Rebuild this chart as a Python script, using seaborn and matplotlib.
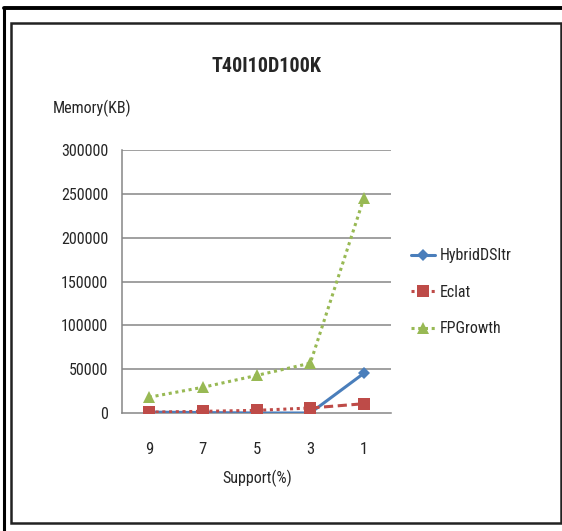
import matplotlib
matplotlib.use("Agg")
import matplotlib.pyplot as plt
from matplotlib.lines import Line2D
from matplotlib.patches import Rectangle
import pandas as pd
import seaborn as sns

# Memory usage per minimum support level, T40I10D100K dataset
support = ["9", "7", "5", "3", "1"]
hybrid_dsitr = [1000, 500, 0, 0, 45500]
eclat = [1000, 1900, 3000, 5700, 10600]
fpgrowth = [18000, 29300, 42800, 56800, 245800]
y_ticks = [0, 50000, 100000, 150000, 200000, 250000, 300000]

series_names = ["HybridDSItr", "Eclat", "FPGrowth"]
colors = {"HybridDSItr": "#4A7EBB", "Eclat": "#BE4B48", "FPGrowth": "#98B954"}

df = pd.DataFrame({
    "Support": support * 3,
    "Memory": hybrid_dsitr + eclat + fpgrowth,
    "Algorithm": [n for n in series_names for _ in support],
})

sns.set_style("white")
plt.rcParams["font.family"] = ["Roboto Condensed", "Open Sans", "DejaVu Sans"]
plt.rcParams["font.stretch"] = "condensed"

W, H = 562, 531
fig = plt.figure(figsize=(W / 100, H / 100), dpi=100)
ax = fig.add_axes([122 / W, 1 - 413 / H, (391 - 122) / W, (413 - 150) / H])

gray = "#868686"
for y in y_ticks[1:]:
    ax.axhline(y, color=gray, lw=1.1, zorder=0)

d = df[df.Algorithm == "HybridDSItr"]
sns.lineplot(data=d, x="Support", y="Memory", ax=ax, color=colors["HybridDSItr"],
             lw=2.2, marker="D", markersize=6, markeredgewidth=0, sort=False, zorder=3)

d = df[df.Algorithm == "Eclat"]
sns.lineplot(data=d.iloc[:4], x="Support", y="Memory", ax=ax, color=colors["Eclat"],
             lw=2.2, linestyle=(0, (1, 1.2)), marker="s", markersize=8,
             markeredgewidth=0, sort=False, zorder=4)
sns.lineplot(data=d.iloc[3:], x="Support", y="Memory", ax=ax, color=colors["Eclat"],
             lw=2.2, linestyle=(0, (3, 1.5)), marker="s", markersize=8,
             markeredgewidth=0, sort=False, zorder=4)

d = df[df.Algorithm == "FPGrowth"]
sns.lineplot(data=d, x="Support", y="Memory", ax=ax, color=colors["FPGrowth"],
             lw=2.2, linestyle=(0, (1, 1.2)), marker="^", markersize=8,
             markeredgewidth=0, sort=False, zorder=2)

ax.set_xlim(-0.5, len(support) - 0.5)
ax.set_ylim(0, 300000)
ax.set_yticks(y_ticks)
ax.set_yticklabels([str(v) for v in y_ticks])
ax.set_xticks(range(len(support)))
ax.set_xticklabels(support)
ax.set_xticks([i - 0.5 for i in range(len(support) + 1)], minor=True)
ax.tick_params(axis="x", which="major", length=0, pad=21, labelsize=12)
ax.tick_params(axis="x", which="minor", length=3.6, width=1, color=gray, direction="out")
ax.tick_params(axis="y", length=3, width=1, color=gray, direction="out", pad=7, labelsize=11.5)
ax.set_xlabel("")
ax.set_ylabel("")

for s in ["top", "right"]:
    ax.spines[s].set_visible(False)
for s in ["left", "bottom"]:
    ax.spines[s].set_color(gray)
    ax.spines[s].set_linewidth(1.1)

fig.text(267 / W, 1 - 66 / H, "T40I10D100K", ha="center", va="center",
         fontsize=14.5, fontweight="bold")
fig.text(53 / W, 1 - 108 / H, "Memory(KB)", ha="left", va="center", fontsize=11.5)
fig.text(257 / W, 1 - 478 / H, "Support(%)", ha="center", va="center", fontsize=11.5)

handles = [
    Line2D([], [], color=colors["HybridDSItr"], lw=2.2, marker="D", markersize=6, markeredgewidth=0),
    Line2D([], [], color=colors["Eclat"], lw=2.2, linestyle=(0, (1, 1.2)), marker="s", markersize=8, markeredgewidth=0),
    Line2D([], [], color=colors["FPGrowth"], lw=2.2, linestyle=(0, (1, 1.2)), marker="^", markersize=8, markeredgewidth=0),
]
fig.legend(handles, series_names, loc="upper left", bbox_to_anchor=(397 / W, 1 - 234 / H),
           frameon=False, fontsize=11.5, handlelength=1.5, handletextpad=0.3,
           labelspacing=1.35)

# page frames
fig.add_artist(Line2D([4 / W, 4 / W], [0, 1 - 8 / H], color="black", lw=2.2))
fig.add_artist(Line2D([4 / W, 1], [1 - 8 / H, 1 - 8 / H], color="black", lw=2.8))
fig.add_artist(Rectangle((11 / W, 1 - 523 / H), (561 - 11) / W, (523 - 23) / H,
                         fill=False, edgecolor="#222222", lw=1.8))

fig.savefig("out.png", dpi=100)
